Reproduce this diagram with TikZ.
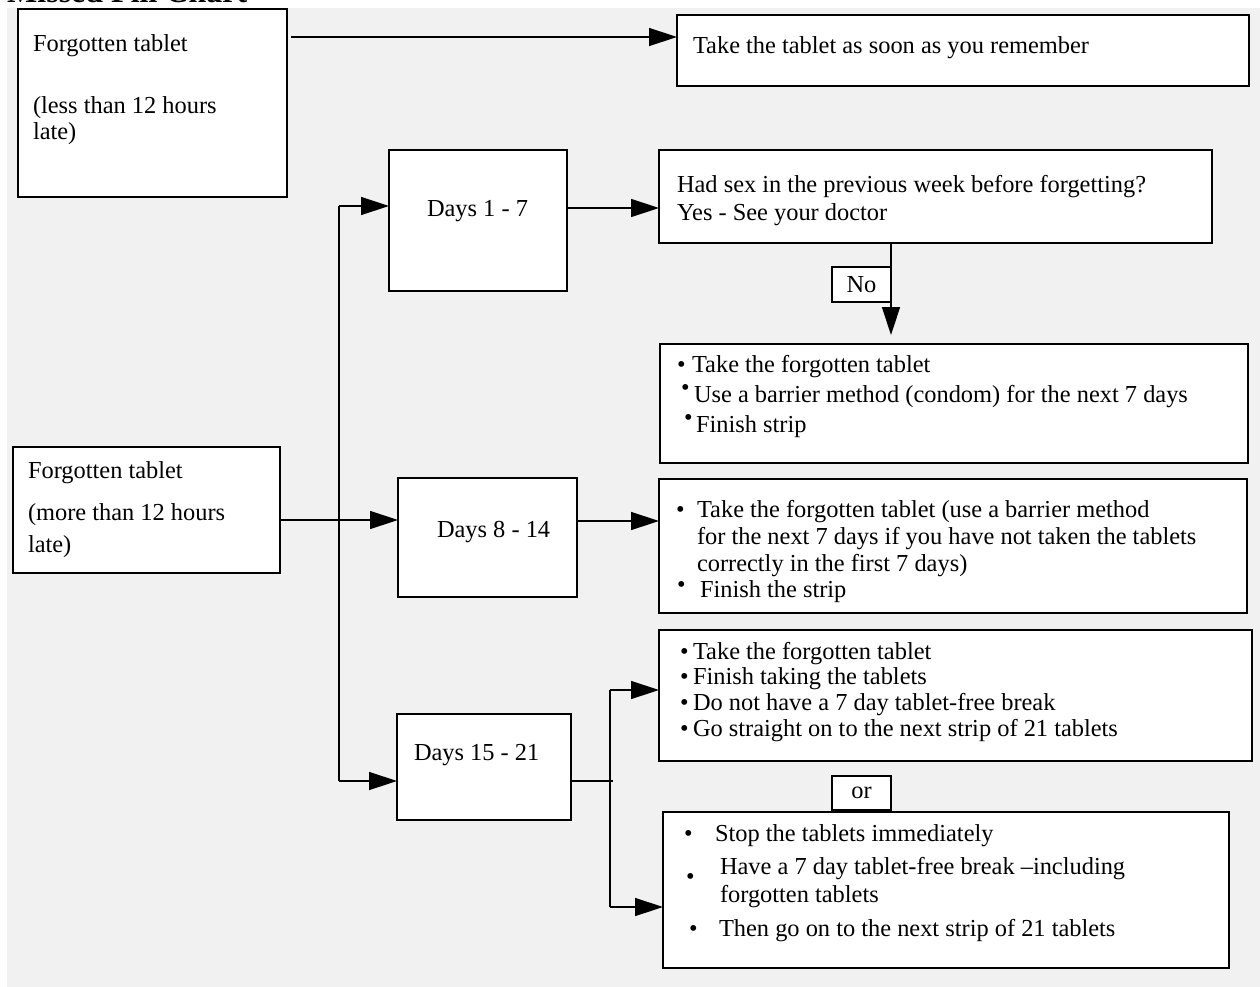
\documentclass[tikz,border=0pt]{standalone}
\usepackage{fontspec}
\setmainfont{Liberation Serif}
\usetikzlibrary{arrows.meta}
\definecolor{bg}{RGB}{241,241,241}
\begin{document}
\begin{tikzpicture}[x=1pt,y=-1pt,
  box/.style={draw, line width=1.6pt, fill=white, inner sep=0pt, outer sep=0pt, anchor=north west, font=\fontsize{24.4}{28}\selectfont},
  txt/.style={anchor=base west, inner sep=0pt, outer sep=0pt, font=\fontsize{24.4}{28}\selectfont},
  bul/.style={anchor=base west, inner sep=0pt, outer sep=0pt, font=\fontsize{24.4}{28}\selectfont},
  ttl/.style={anchor=base west, inner sep=0pt, font=\fontsize{32}{36}\selectfont\bfseries},
  arr/.style={line width=1.4pt, -{Triangle[length=28pt,width=18pt]}},
  ln/.style={line width=1.4pt}]
\useasboundingbox (0,0) rectangle (1260,987);
\clip (0,0) rectangle (1260,987);
\fill[bg] (7,8) rectangle (1260,987);
\node[ttl] (title) at (7,3) {Missed Pill Chart};

% boxes
\node[box, minimum width=269pt, minimum height=188pt] (A) at (18,9) {};
\node[box, minimum width=572pt, minimum height=71pt] (B) at (677,15) {};
\node[box, minimum width=178pt, minimum height=141pt] (D17) at (389,150) {};
\node[box, minimum width=553pt, minimum height=93pt] (Q) at (659,150) {};
\node[box, minimum width=588pt, minimum height=119pt] (R1) at (660,344) {};
\node[box, minimum width=267pt, minimum height=126pt] (F2) at (13,447) {};
\node[box, minimum width=179pt, minimum height=119pt] (D814) at (398,478) {};
\node[box, minimum width=588pt, minimum height=134pt] (R2) at (659,479) {};
\node[box, minimum width=174pt, minimum height=106pt] (D1521) at (397,714) {};
\node[box, minimum width=593pt, minimum height=131pt] (R3) at (659,630) {};
\node[box, minimum width=566pt, minimum height=156pt] (R4) at (663,812) {};

% connectors
\coordinate (c1) at (291,37);
\draw[arr] (c1) -- (c1 -| B.west);
\coordinate (c2) at (567,208);
\draw[arr] (c2) -- (c2 -| Q.west);
\coordinate (c3) at (891,335);
\draw[arr] (c3 |- Q.south) -- (c3);
\coordinate (k1) at (339,206);
\coordinate (k2) at (339,781);
\draw[ln] (k1) -- (k2);
\draw[arr] (k1) -- (k1 -| D17.west);
\draw[arr] (k2) -- (k2 -| D1521.west);
\coordinate (c4) at (280,520);
\draw[arr] (c4 -| F2.east) -- (c4 -| D814.west);
\coordinate (c5) at (577,521);
\draw[arr] (c5 -| D814.east) -- (c5 -| R2.west);
\coordinate (c6) at (613,781);
\draw[ln] (c6 -| D1521.east) -- (c6);
\coordinate (m1) at (610,690);
\coordinate (m2) at (610,907);
\draw[ln] (m1) -- (m2);
\draw[arr] (m1) -- (m1 -| R3.west);
\draw[arr] (m2) -- (m2 -| R4.west);

\node[box, minimum width=59pt, minimum height=35pt] (No) at (832,267) {No};
\node[box, minimum width=59pt, minimum height=34pt] (Or) at (832,776) {or};

% texts
\node[txt] (a1) at (33,52) {Forgotten tablet};
\node[txt] (a2) at (33,114) {(less than 12 hours};
\node[txt] (a3) at (33,140) {late)};
\node[txt] (bt) at (693,54) {Take the tablet as soon as you remember};
\node[txt] (d1) at (427,216) {Days 1 - 7};
\node[txt] (q1) at (677,193) {Had sex in the previous week before forgetting?};
\node[txt] (q2) at (677,220) {Yes - See your doctor};

\node[bul] (r1b1) at (677,372) {•};
\node[txt] (r1t1) at (692,372) {Take the forgotten tablet};
\node[bul] (r1b2) at (681,395) {•};
\node[txt] (r1t2) at (694,402) {Use a barrier method (condom) for the next 7 days};
\node[bul] (r1b3) at (684,425) {•};
\node[txt] (r1t3) at (696,432) {Finish strip};

\node[txt] (f1) at (28,478) {Forgotten tablet};
\node[txt] (f2) at (28,520) {(more than 12 hours};
\node[txt] (f3) at (28,552) {late)};
\node[txt] (d2) at (437,537) {Days 8 - 14};

\node[bul] (r2b1) at (676,517) {•};
\node[txt] (r2t1) at (697,517) {Take the forgotten tablet (use a barrier method};
\node[txt] (r2t2) at (697,544) {for the next 7 days if you have not taken the tablets};
\node[txt] (r2t3) at (697,571) {correctly in the first 7 days)};
\node[bul] (r2b2) at (677,592) {•};
\node[txt] (r2t4) at (700,597) {Finish the strip};

\node[txt] (d3) at (414,760) {Days 15 - 21};

\node[bul] (r3b1) at (680,659) {•};
\node[txt] (r3t1) at (693,659) {Take the forgotten tablet};
\node[bul] (r3b2) at (680,684) {•};
\node[txt] (r3t2) at (693,684) {Finish taking the tablets};
\node[bul] (r3b3) at (680,710) {•};
\node[txt] (r3t3) at (693,710) {Do not have a 7 day tablet-free break};
\node[bul] (r3b4) at (680,736) {•};
\node[txt] (r3t4) at (693,736) {Go straight on to the next strip of 21 tablets};

\node[bul] (r4b1) at (684,841) {•};
\node[txt] (r4t1) at (715,841) {Stop the tablets immediately};
\node[bul] (r4b2) at (686,884) {•};
\node[txt] (r4t2) at (720,874) {Have a 7 day tablet-free break –including};
\node[txt] (r4t3) at (720,902) {forgotten tablets};
\node[bul] (r4b3) at (689,936) {•};
\node[txt] (r4t4) at (719,936) {Then go on to the next strip of 21 tablets};
\end{tikzpicture}
\end{document}
